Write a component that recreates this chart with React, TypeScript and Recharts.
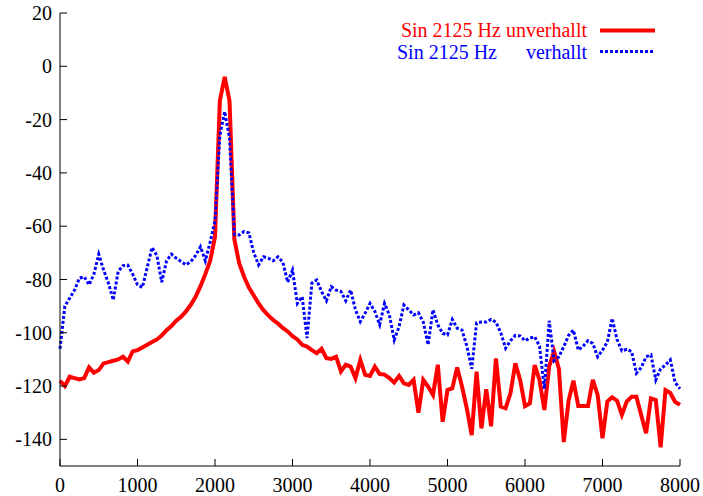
import React from 'react';
import { LineChart, Line, XAxis, YAxis } from 'recharts';

// spectrum bins, 62.5 Hz apart, 0..8000 Hz
const BIN_HZ = 62.5;

const RED_DB = [
  -118, -120, -116.5, -117, -117.5, -117, -113, -115, -114, -111.5,
  -111, -110.5, -110, -109, -110.8, -107, -106.5, -105.5, -104.5, -103.5,
  -102.5, -101, -99, -97.5, -95.5, -94, -92, -89.5, -86.5, -82.5,
  -78, -73, -64, -13, -4, -13, -65, -74, -79, -83,
  -86, -89, -91.5, -93.5, -95.2, -96.5, -98.2, -99.5, -101.3, -102.5,
  -104.5, -105.2, -106.5, -107.7, -106, -109.5, -109.8, -109, -114.5, -112,
  -112.7, -117, -110.2, -115.8, -116.2, -112.7, -115.5, -115.7, -117, -118.7,
  -116.2, -119, -119.6, -117.7, -130, -117.7, -120.2, -123.3, -112, -133.4,
  -121.5, -120.8, -113, -120.2, -128.5, -138.4, -114.6, -135.9, -121.2, -135.1,
  -109.6, -127.7, -128.3, -122.7, -111.5, -117.7, -127.5, -126.5, -112.1, -117.7,
  -129, -112.5, -107, -113.5, -141, -125.5, -118, -127.5, -127.5, -127.5,
  -117.7, -123.3, -139.6, -125.8, -124.2, -125.5, -130.8, -125.8, -124, -124,
  -131, -137.7, -124.6, -125.2, -143, -121.5, -122.6, -126, -127,
];

const BLUE_DB = [
  -106, -90, -87, -84, -79.5, -79, -82, -78, -70.5, -76.4,
  -81.4, -87.7, -77, -74.8, -74.6, -78, -82, -83, -75.5, -68,
  -71, -81, -73, -70.5, -72, -73.3, -74.5, -73.3, -71, -67.7,
  -73, -66, -58, -26, -17, -27, -63, -63.3, -62, -62.5,
  -70, -74.5, -71.5, -72, -73, -71.5, -73.5, -81, -76.5, -89,
  -86.5, -102, -81.4, -80.2, -84.6, -88, -82.7, -84, -84.5, -88,
  -84, -91.4, -95.8, -92.7, -89, -92, -97, -89, -93.3, -102.7,
  -97.7, -89.6, -91.4, -93.3, -92.5, -96, -104.5, -91.4, -97, -100.2,
  -100.8, -95, -98.3, -99, -105, -113.5, -96.3, -96, -96, -95,
  -96, -100, -105.8, -103, -101, -101.2, -103, -102, -101.5, -105,
  -121, -95.5, -110.5, -109, -105.2, -101, -99, -106.5, -105, -103,
  -104, -109, -106.5, -103.5, -94.6, -102.5, -106.8, -106.2, -107, -115.2,
  -113, -109, -108.3, -117.7, -113.5, -112.1, -110.2, -118.7, -121,
];

const X_TICKS = [0, 1000, 2000, 3000, 4000, 5000, 6000, 7000, 8000];
const Y_TICKS = [-140, -120, -100, -80, -60, -40, -20, 0, 20];

const FONT = '"Liberation Serif", "DejaVu Serif", serif';

const rows = RED_DB.map((v, i) => ({ f: i * BIN_HZ, red: v, blue: BLUE_DB[i] }));

const tickStyle = { fill: '#000', fontSize: 20, fontFamily: FONT };

export default function App() {
  return (
    <div style={{ position: 'absolute', left: 0, top: 0, width: 703, height: 496, background: '#fff' }}>
      <LineChart width={703} height={496} data={rows} margin={{ top: 13, right: 23, bottom: 0, left: 0 }}>
        <XAxis
          xAxisId="b"
          dataKey="f"
          type="number"
          domain={[0, 8000]}
          ticks={X_TICKS}
          interval={0}
          height={30}
          tickSize={-7}
          tickMargin={19}
          axisLine={{ stroke: '#000' }}
          tickLine={{ stroke: '#000' }}
          tick={tickStyle}
        />
        <XAxis
          xAxisId="t"
          orientation="top"
          dataKey="f"
          type="number"
          domain={[0, 8000]}
          ticks={X_TICKS}
          interval={0}
          height={0}
          tickSize={-7}
          axisLine={{ stroke: '#000' }}
          tickLine={{ stroke: '#000' }}
          tick={false}
        />
        <YAxis
          yAxisId="l"
          type="number"
          domain={[-150, 20]}
          ticks={Y_TICKS}
          interval={0}
          width={60}
          tickSize={-7}
          tickMargin={15}
          axisLine={{ stroke: '#000' }}
          tickLine={{ stroke: '#000' }}
          tick={tickStyle}
        />
        <YAxis
          yAxisId="r"
          orientation="right"
          type="number"
          domain={[-150, 20]}
          ticks={Y_TICKS}
          interval={0}
          width={0}
          tickSize={-7}
          axisLine={{ stroke: '#000' }}
          tickLine={{ stroke: '#000' }}
          tick={false}
        />
        <Line
          xAxisId="b"
          yAxisId="l"
          dataKey="red"
          stroke="#ff0000"
          strokeWidth={4}
          dot={false}
          isAnimationActive={false}
        />
        <Line
          xAxisId="b"
          yAxisId="l"
          dataKey="blue"
          stroke="#0000ff"
          strokeWidth={3}
          strokeDasharray="3 2"
          dot={false}
          isAnimationActive={false}
        />
      </LineChart>
      <svg
        width={703}
        height={496}
        style={{ position: 'absolute', left: 0, top: 0, pointerEvents: 'none' }}
      >
        <text x={587} y={37} textAnchor="end" fill="#ff0000" fontSize={20} fontFamily={FONT}>
          Sin 2125 Hz unverhallt
        </text>
        <line x1={600} x2={655} y1={30.5} y2={30.5} stroke="#ff0000" strokeWidth={4} />
        <text x={397} y={58.5} fill="#0000ff" fontSize={20} fontFamily={FONT}>
          Sin 2125 Hz
        </text>
        <text x={587} y={58.5} textAnchor="end" fill="#0000ff" fontSize={20} fontFamily={FONT}>
          verhallt
        </text>
        <line x1={600} x2={655} y1={51.5} y2={51.5} stroke="#0000ff" strokeWidth={3} strokeDasharray="3 2" />
      </svg>
    </div>
  );
}
